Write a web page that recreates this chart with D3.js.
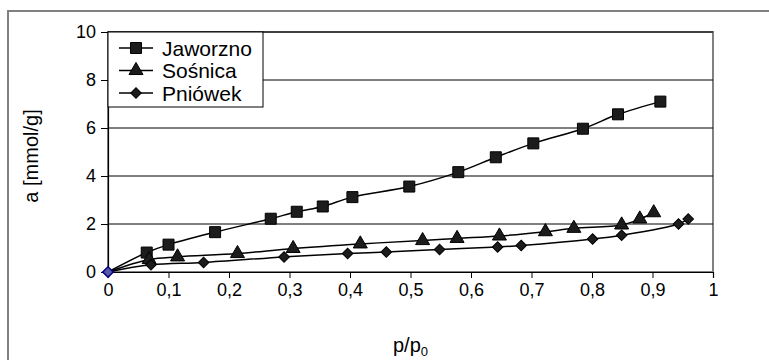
<!DOCTYPE html>
<html>
<head>
<meta charset="utf-8">
<script src="https://cdn.jsdelivr.net/npm/d3@7"></script>
<style>
  body { margin: 0; background: #fff; }
  svg { display: block; font-family: "Liberation Sans", Arial, sans-serif; }
</style>
</head>
<body>
<div id="chart"></div>
<script>
// dane
const seriesNames = ["Jaworzno", "Sośnica", "Pniówek"];

const pJaworzno = [0, 0.064, 0.100, 0.177, 0.269, 0.312, 0.355, 0.404, 0.498, 0.579, 0.641, 0.703, 0.785, 0.843, 0.913];
const aJaworzno = [0, 0.81, 1.14, 1.66, 2.22, 2.51, 2.73, 3.12, 3.56, 4.16, 4.78, 5.36, 5.97, 6.57, 7.10];

const pSosnica = [0, 0.068, 0.115, 0.214, 0.306, 0.417, 0.520, 0.577, 0.647, 0.723, 0.770, 0.849, 0.879, 0.902];
const aSosnica = [0, 0.52, 0.63, 0.77, 0.98, 1.17, 1.31, 1.40, 1.50, 1.68, 1.82, 1.96, 2.21, 2.47];

const pPniowek = [0, 0.071, 0.158, 0.291, 0.396, 0.460, 0.548, 0.644, 0.683, 0.801, 0.849, 0.943, 0.959];
const aPniowek = [0, 0.30, 0.40, 0.63, 0.77, 0.83, 0.94, 1.04, 1.10, 1.37, 1.53, 2.00, 2.21];

const xTicks = [0, 0.1, 0.2, 0.3, 0.4, 0.5, 0.6, 0.7, 0.8, 0.9, 1];
const yTicks = [0, 2, 4, 6, 8, 10];

const W = 769, H = 360;
const margin = { top: 32, right: 56, bottom: 88, left: 108 };
const width = W - margin.left - margin.right;
const height = H - margin.top - margin.bottom;

const svg = d3.select("#chart").append("svg")
    .attr("width", W)
    .attr("height", H);

// ramka obszaru wykresu
svg.append("rect")
    .attr("x", 8).attr("y", 11)
    .attr("width", W + 20).attr("height", H + 20)
    .attr("fill", "#fff")
    .attr("stroke", "#808080")
    .attr("stroke-width", 2);

const g = svg.append("g")
    .attr("transform", `translate(${margin.left},${margin.top})`);

const x = d3.scaleLinear().domain([0, 1]).range([0, width]);
const y = d3.scaleLinear().domain([0, 10]).range([height, 0]);

// obramowanie obszaru kreślenia
g.append("rect")
    .attr("width", width).attr("height", height)
    .attr("fill", "none")
    .attr("stroke", "#808080")
    .attr("stroke-width", 2);

// linie siatki
g.append("g")
    .selectAll("line")
    .data(yTicks.filter(d => d > 0))
    .join("line")
    .attr("x1", 0).attr("x2", width)
    .attr("y1", d => y(d)).attr("y2", d => y(d))
    .attr("stroke", "#000")
    .attr("stroke-width", 1);

const fmt = d => String(d).replace(".", ",");

const xAxis = g.append("g")
    .attr("transform", `translate(0,${height})`)
    .call(d3.axisBottom(x).tickValues(xTicks).tickFormat(fmt).tickSize(6).tickPadding(5));
xAxis.select(".domain").attr("stroke", "#000").attr("stroke-width", 1.2);
xAxis.selectAll(".tick line").attr("stroke", "#000");
xAxis.selectAll("text").attr("font-size", 18).attr("fill", "#000").attr("font-family", "Liberation Sans, Arial, sans-serif");

const yAxis = g.append("g")
    .call(d3.axisLeft(y).tickValues(yTicks).tickSize(7).tickPadding(5));
yAxis.select(".domain").attr("stroke", "#000").attr("stroke-width", 1.2);
yAxis.selectAll(".tick line").attr("stroke", "#000");
yAxis.selectAll("text").attr("font-size", 18).attr("fill", "#000").attr("font-family", "Liberation Sans, Arial, sans-serif");

// tytuły osi
svg.append("text")
    .attr("transform", `translate(38,${margin.top + height / 2 + 4}) rotate(-90)`)
    .attr("text-anchor", "middle")
    .attr("font-size", 20)
    .text("a [mmol/g]");

const xt = svg.append("text")
    .attr("x", margin.left + width / 2)
    .attr("y", 352)
    .attr("text-anchor", "middle")
    .attr("font-size", 20)
    .text("p/p");
xt.append("tspan").attr("font-size", 13).attr("dy", 4).text("0");

const symbols = [
    { type: d3.symbolSquare, size: 121, rot: 0 },
    { type: d3.symbolTriangle, size: 85, rot: 0 },
    { type: d3.symbolSquare, size: 56, rot: 45 }
];

const series = [
    { name: seriesNames[0], p: pJaworzno, a: aJaworzno },
    { name: seriesNames[1], p: pSosnica, a: aSosnica },
    { name: seriesNames[2], p: pPniowek, a: aPniowek }
].map(s => ({ name: s.name, values: s.p.map((p, i) => ({ p: p, a: s.a[i] })) }));

const line = d3.line()
    .x(d => x(d.p))
    .y(d => y(d.a))
    .curve(d3.curveCatmullRom);

series.forEach((s, i) => {
    g.append("path")
        .datum(s.values)
        .attr("fill", "none")
        .attr("stroke", "#000")
        .attr("stroke-width", 1.5)
        .attr("d", line);
});

series.forEach((s, i) => {
    const sym = d3.symbol().type(symbols[i].type).size(symbols[i].size);
    g.selectAll(".m" + i)
        .data(s.values.slice(1))
        .join("path")
        .attr("class", "m" + i)
        .attr("transform", d => `translate(${x(d.p)},${y(d.a)}) rotate(${symbols[i].rot})`)
        .attr("d", sym)
        .attr("fill", "#1c1c1c")
        .attr("stroke", "#000")
        .attr("stroke-width", 1);
});

// zaznaczony punkt w początku układu
g.append("path")
    .attr("transform", `translate(${x(0)},${y(0)}) rotate(45)`)
    .attr("d", d3.symbol().type(d3.symbolSquare).size(56))
    .attr("fill", "#5a5aa8")
    .attr("stroke", "#000080")
    .attr("stroke-width", 1.5);

// legenda
const legend = g.append("g");
legend.append("rect")
    .attr("x", 0).attr("y", 0)
    .attr("width", 155).attr("height", 75)
    .attr("fill", "#fff")
    .attr("stroke", "#000")
    .attr("stroke-width", 1);

series.forEach((s, i) => {
    const cy = 16 + i * 22.5;
    const row = legend.append("g").attr("transform", `translate(0,${cy})`);
    row.append("line")
        .attr("x1", 11).attr("x2", 45)
        .attr("stroke", "#000").attr("stroke-width", 1.5);
    row.append("path")
        .attr("transform", `translate(28,0) rotate(${symbols[i].rot})`)
        .attr("d", d3.symbol().type(symbols[i].type).size(symbols[i].size))
        .attr("fill", "#1c1c1c")
        .attr("stroke", "#000");
    row.append("text")
        .attr("x", 54).attr("y", 7.5)
        .attr("font-size", 21)
        .text(s.name);
});
</script>
</body>
</html>
